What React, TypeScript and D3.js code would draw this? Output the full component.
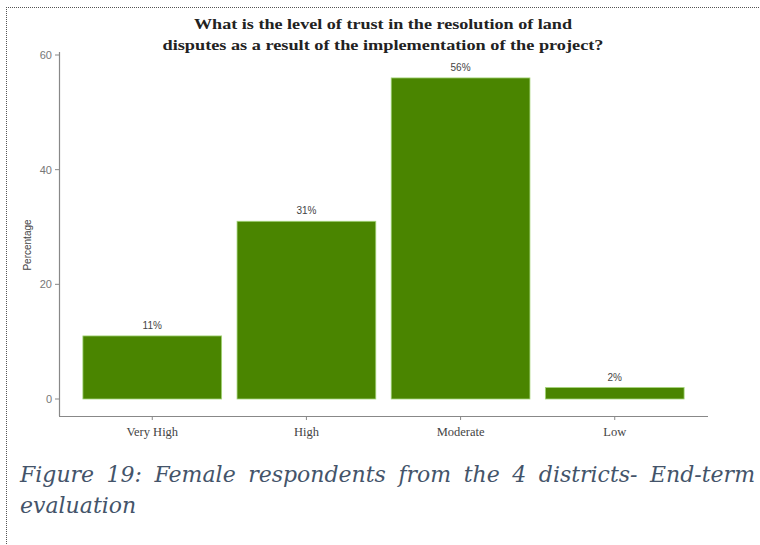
import React, { useMemo } from "react";
import * as d3 from "d3";

const categories = ["Very High", "High", "Moderate", "Low"];
const values = [11, 31, 56, 2];
const yTicks = [0, 20, 40, 60];
const titleLines = [
  "What is the level of trust in the resolution of land",
  "disputes as a result of the implementation of the project?",
];
const captionLines = [
  "Figure 19: Female respondents from the 4 districts- End-term",
  "evaluation",
];

const serif = "'Liberation Serif', 'DejaVu Serif', serif";
const sans = "'Liberation Sans', Arial, sans-serif";
const capFamily = "'DejaVu Serif'";
const capSize = 22;

function justify(line: string, x0: number, width: number) {
  const words = line.split(" ");
  let widths: number[] = words.map((w) => w.length * 12);
  try {
    const ctx = document.createElement("canvas").getContext("2d");
    if (ctx) {
      ctx.font = `italic ${capSize}px ${capFamily}`;
      widths = words.map((w) => ctx.measureText(w).width);
    }
  } catch (e) {}
  const total = widths.reduce((a, b) => a + b, 0);
  const gap = (width - total) / (words.length - 1);
  const out: { w: string; x: number }[] = [];
  let cx = x0;
  words.forEach((w, i) => {
    out.push({ w, x: cx });
    cx += widths[i] + gap;
  });
  return out;
}

export default function App() {
  const W = 760;
  const H = 545;
  const x = d3
    .scaleBand<string>()
    .domain(categories)
    .range([59, 708])
    .paddingInner(0.1)
    .paddingOuter(0.155);
  const y = d3.scaleLinear().domain([0, 60]).range([399, 55]);
  const capWords = useMemo(() => justify(captionLines[0], 20, 735), []);
  return (
    <svg
      width={W}
      height={H}
      style={{ position: "absolute", left: 0, top: 0, background: "#fff" }}
    >
      {/* dotted frame */}
      <line x1={6} x2={760} y1={7.5} y2={7.5} stroke="#555" strokeDasharray="1,1" strokeWidth={1} />
      <line x1={6.5} x2={6.5} y1={7} y2={545} stroke="#555" strokeDasharray="1,1" strokeWidth={1} />

      {/* title */}
      {titleLines.map((t, i) => (
        <text
          key={i}
          x={383}
          y={29 + i * 21}
          textAnchor="middle"
          fontFamily={serif}
          fontWeight="bold"
          fontSize={15}
          fill="#222"
          textLength={i === 0 ? 378 : 441}
          lengthAdjust="spacingAndGlyphs"
        >
          {t}
        </text>
      ))}

      {/* axes */}
      <line x1={59.5} x2={59.5} y1={52} y2={416} stroke="#888" strokeWidth={1.2} />
      <line x1={59} x2={708} y1={416.5} y2={416.5} stroke="#888" strokeWidth={1.2} />
      {yTicks.map((t) => (
        <g key={t}>
          <line x1={55} x2={59} y1={y(t)} y2={y(t)} stroke="#888" />
          <text
            x={52}
            y={y(t) + 4}
            textAnchor="end"
            fontFamily={sans}
            fontSize={11}
            fill="#777"
          >
            {t}
          </text>
        </g>
      ))}
      {categories.map((c) => {
        const cx = (x(c) as number) + x.bandwidth() / 2;
        return (
          <g key={c}>
            <line x1={cx} x2={cx} y1={416} y2={420} stroke="#888" />
            <text
              x={cx}
              y={436}
              textAnchor="middle"
              fontFamily={serif}
              fontSize={12.5}
              fill="#444"
            >
              {c}
            </text>
          </g>
        );
      })}
      <text
        transform="translate(31,245) rotate(-90)"
        textAnchor="middle"
        fontFamily={sans}
        fontSize={10}
        fill="#444"
      >
        Percentage
      </text>

      {/* bars */}
      {categories.map((c, i) => (
        <g key={c}>
          <rect
            x={x(c) as number}
            y={y(values[i])}
            width={x.bandwidth()}
            height={y(0) - y(values[i])}
            fill="#4a8500"
            stroke="#a5d57a"
            strokeWidth={0.8}
          />
          <text
            x={(x(c) as number) + x.bandwidth() / 2}
            y={y(values[i]) - 7}
            textAnchor="middle"
            fontFamily={sans}
            fontSize={10}
            fill="#444"
          >
            {values[i]}%
          </text>
        </g>
      ))}

      {/* caption */}
      <g fontFamily={capFamily} fontStyle="italic" fontSize={capSize} fill="#44546a">
        {capWords.map((cw, i) => (
          <text key={i} x={cw.x} y={482}>
            {cw.w}
          </text>
        ))}
        <text x={20} y={513}>
          {captionLines[1]}
        </text>
      </g>
    </svg>
  );
}
